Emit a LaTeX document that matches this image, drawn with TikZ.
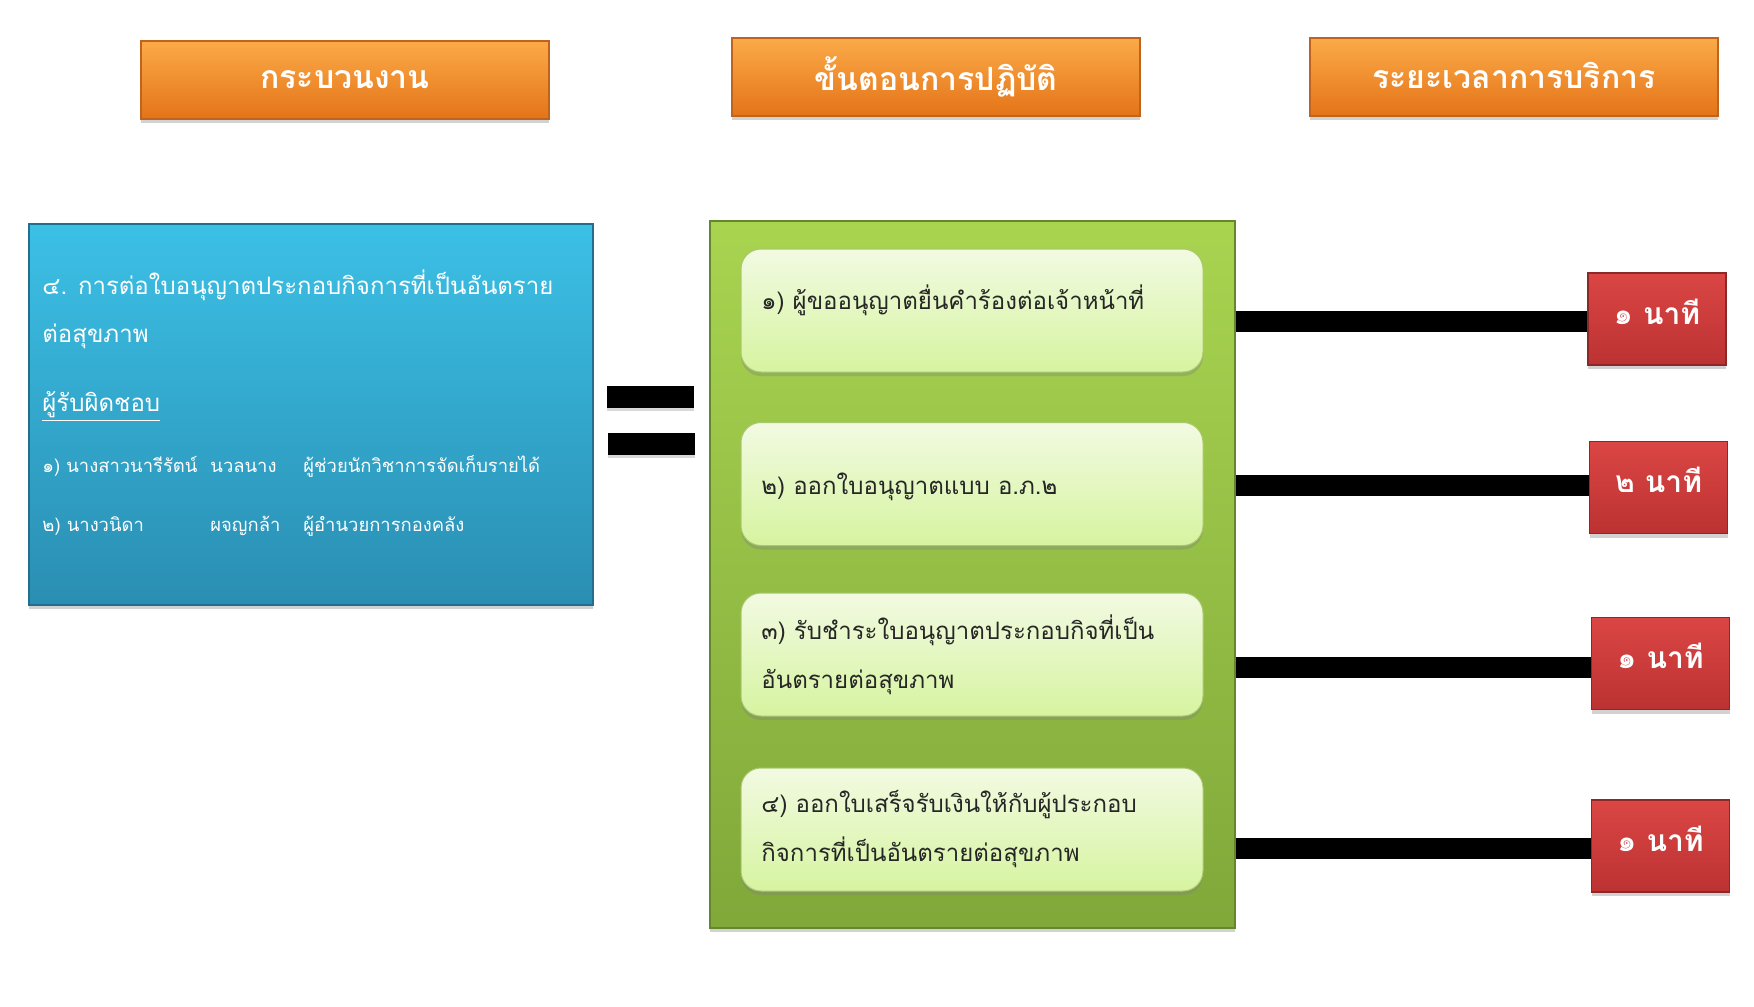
\documentclass[tikz,border=0pt]{standalone}
\usepackage{fontspec}
\newfontfamily\thaifont[Script=Thai]{Loma}
\usetikzlibrary{shadows,calc}
\definecolor{orTop}{RGB}{251,170,72}
\definecolor{orBot}{RGB}{228,116,24}
\definecolor{orEdge}{RGB}{190,100,30}
\definecolor{blTop}{RGB}{60,192,230}
\definecolor{blBot}{RGB}{42,142,178}
\definecolor{blEdge}{RGB}{35,110,140}
\definecolor{grTop}{RGB}{168,212,80}
\definecolor{grBot}{RGB}{128,168,58}
\definecolor{grEdge}{RGB}{100,135,45}
\definecolor{stTop}{RGB}{242,250,226}
\definecolor{stBot}{RGB}{214,244,160}
\definecolor{stEdge}{RGB}{170,200,110}
\definecolor{rdTop}{RGB}{218,70,68}
\definecolor{rdBot}{RGB}{188,50,50}
\definecolor{rdEdge}{RGB}{140,40,40}
\tikzset{
  header/.style={draw=orEdge, line width=0.6pt, top color=orTop, bottom color=orBot,
    minimum width=204pt, minimum height=39pt, inner sep=0pt, text=white,
    font={\thaifont\bfseries\fontsize{16}{18}\selectfont},
    drop shadow={opacity=0.35, shadow xshift=0pt, shadow yshift=-2pt}},
  bluebox/.style={draw=blEdge, line width=0.6pt, top color=blTop, bottom color=blBot,
    minimum width=282pt, minimum height=190.5pt, inner sep=0pt,
    drop shadow={opacity=0.35, shadow xshift=0pt, shadow yshift=-2pt}},
  greenbox/.style={draw=grEdge, line width=0.6pt, top color=grTop, bottom color=grBot,
    minimum width=262.5pt, minimum height=353.5pt, inner sep=0pt,
    drop shadow={opacity=0.35, shadow xshift=0pt, shadow yshift=-2pt}},
  stepbox/.style={draw=stEdge, line width=0.5pt, top color=stTop, bottom color=stBot,
    rounded corners=10pt, minimum width=231pt, minimum height=61.5pt, inner sep=0pt,
    drop shadow={opacity=0.35, shadow xshift=0pt, shadow yshift=-2pt}},
  steptext/.style={anchor=west, inner sep=0pt, align=left, text=black!85,
    font={\thaifont\fontsize{12}{24.5}\selectfont}},
  whitetext/.style={anchor=west, inner sep=0pt, align=left, text=white,
    font={\thaifont\fontsize{12}{24}\selectfont}},
  smalltext/.style={anchor=west, inner sep=0pt, align=left, text=white,
    font={\thaifont\fontsize{9.2}{11}\selectfont}},
  timebox/.style={draw=rdEdge, line width=0.6pt, top color=rdTop, bottom color=rdBot,
    minimum width=69pt, minimum height=46pt, inner sep=0pt, text=white,
    font={\thaifont\bfseries\fontsize{15}{17}\selectfont},
    drop shadow={opacity=0.35, shadow xshift=0pt, shadow yshift=-2pt}},
  eqbar/.style={fill=black, minimum width=43.5pt, minimum height=11pt, inner sep=0pt,
    drop shadow={opacity=0.3, shadow xshift=0pt, shadow yshift=-1.5pt}},
  tbar/.style={line width=10.5pt, draw=black},
}
\begin{document}
\begin{tikzpicture}[x=0.5pt,y=-0.5pt]
\useasboundingbox[fill=white] (0,0) rectangle (1754,1006);

% headers
\node[header] (h1) at (345,80) {กระบวนงาน};
\node[header] (h2) at (936,77) {\raisebox{1.7pt}{ขั้นตอนการปฏิบัติ}};
\node[header] (h3) at (1514,77) {\raisebox{1.7pt}{ระยะเวลาการบริการ}};

% blue process box
\node[bluebox] (proc) at (311,414.5) {};
\node[whitetext] (ptitle) at (42,309) {๔. การต่อใบอนุญาตประกอบกิจการที่เป็นอันตราย\\ต่อสุขภาพ};
\node[whitetext] (resp) at (42,406.5) {\underline{ผู้รับผิดชอบ}};
\node[smalltext] (p1) at (42,466) {\makebox[84pt][l]{๑) นางสาวนารีรัตน์}\makebox[46.5pt][l]{นวลนาง}ผู้ช่วยนักวิชาการจัดเก็บรายได้};
\node[smalltext] (p2) at (42,526) {\makebox[84pt][l]{๒) นางวนิดา}\makebox[46.5pt][l]{ผจญกล้า}ผู้อำนวยการกองคลัง};

% equals bars
\node[eqbar] (eq1) at (650.5,397) {};
\node[eqbar] (eq2) at (651.5,444) {};

% green steps box
\node[greenbox] (steps) at (972.5,574.5) {};
\node[stepbox] (s1) at (972,310.5) {};
\node[stepbox] (s2) at (972,484) {};
\node[stepbox] (s3) at (972,654.5) {};
\node[stepbox] (s4) at (972,829.5) {};
\node[steptext] (t1) at (761,300) {๑) ผู้ขออนุญาตยื่นคำร้องต่อเจ้าหน้าที่};
\node[steptext] (t2) at (761,487) {๒) ออกใบอนุญาตแบบ อ.ภ.๒};
\node[steptext] (t3) at (761,654.5) {๓) รับชำระใบอนุญาตประกอบกิจที่เป็น\\อันตรายต่อสุขภาพ};
\node[steptext] (t4) at (761,829.5) {๔) ออกใบเสร็จรับเงินให้กับผู้ประกอบ\\กิจการที่เป็นอันตรายต่อสุขภาพ};

% time boxes
\node[timebox] (r1) at (1657,319) {\raisebox{7.5pt}{๑ นาที}};
\node[timebox] (r2) at (1658.5,487.5) {\raisebox{7.5pt}{๒ นาที}};
\node[timebox] (r3) at (1660.5,663.5) {\raisebox{7.5pt}{๑ นาที}};
\node[timebox] (r4) at (1660.5,846) {\raisebox{7.5pt}{๑ นาที}};

% connecting bars
\draw[tbar] ($(steps.east |- r1)+(0,2.5)$) -- ($(r1.west)+(0,2.5)$);
\draw[tbar] ($(steps.east |- r2)+(0,-2.5)$) -- ($(r2.west)+(0,-2.5)$);
\draw[tbar] ($(steps.east |- r3)+(0,4)$) -- ($(r3.west)+(0,4)$);
\draw[tbar] ($(steps.east |- r4)+(0,2.5)$) -- ($(r4.west)+(0,2.5)$);
\end{tikzpicture}
\end{document}
